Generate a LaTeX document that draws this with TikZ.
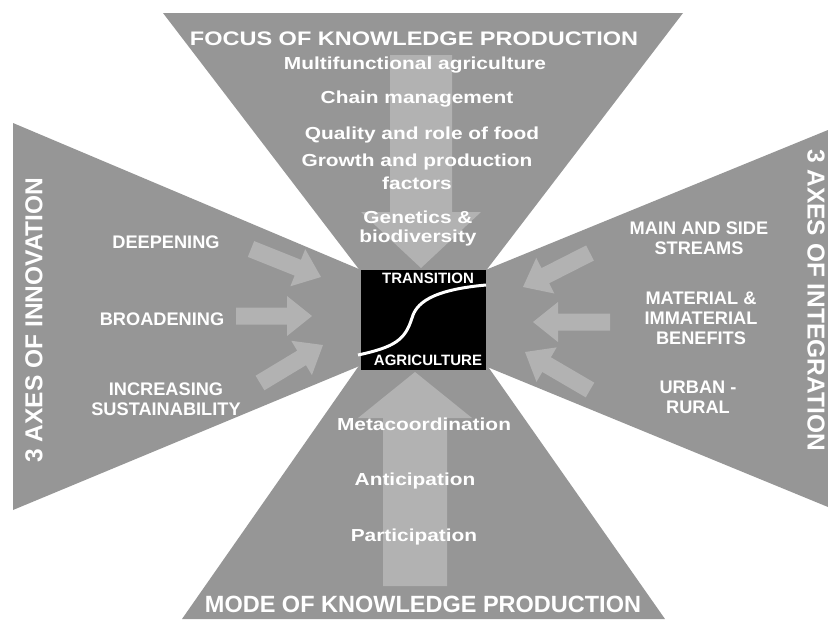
\documentclass[tikz,border=0pt]{standalone}
\usepackage{fontspec}
\usetikzlibrary{calc}
\newfontfamily\widesans{Liberation Sans}[FakeStretch=1.2]
\newfontfamily\plainsans{Liberation Sans}
\definecolor{wedgegray}{RGB}{150,150,150}
\definecolor{arrowgray}{RGB}{178,178,178}
% tail, tip, half shaft, half head, head length
\newcommand{\fatarrow}[5]{%
  \coordinate (hb) at ($(#2)!#5!(#1)$);
  \fill[arrowgray] ($(#1)!#3!90:(#2)$) -- ($(hb)!#3!90:(#2)$) -- ($(hb)!#4!90:(#2)$)
    -- (#2) -- ($(hb)!#4!-90:(#2)$) -- ($(hb)!#3!-90:(#2)$) -- ($(#1)!#3!-90:(#2)$) -- cycle;
}
\tikzset{wedge/.style={fill=wedgegray},
    toplabel/.style={text=white, inner sep=0pt, align=center,
        font=\widesans\bfseries\fontsize{17.4}{23.5}\selectfont},
    sidelabel/.style={text=white, inner sep=0pt, align=center,
        font=\plainsans\bfseries\fontsize{18.2}{20}\selectfont},
    axislabel/.style={text=white, inner sep=0pt,
        font=\plainsans\bfseries\fontsize{24.5}{28}\selectfont},
    boxlabel/.style={text=white, inner sep=0pt,
        font=\plainsans\bfseries\fontsize{15}{18}\selectfont},
    }
\begin{document}
\begin{tikzpicture}[x=1pt, y=-1pt]
\useasboundingbox (0,0) rectangle (828,619);
% the four wedges, their points hidden under the box
\fill[wedge] (163,13) -- (683,13) -- (423,353) -- cycle;%top
\fill[wedge] (13,123) -- (475,318) -- (13,510) -- cycle;%left
\fill[wedge] (828,130) -- (368,318) -- (828,507) -- cycle;%right
\fill[wedge] (423,274) -- (665,619) -- (182,619) -- cycle;%bottom
% arrows
\fatarrow{421,55}{421,268}{31pt}{60pt}{56pt}
\fatarrow{415,586}{415,372}{32pt}{57pt}{46pt}
\fatarrow{251,249}{321,277}{8.5pt}{20pt}{25pt}
\fatarrow{236,316}{312,316}{8.5pt}{20pt}{25pt}
\fatarrow{260,383}{323,345}{8.5pt}{20pt}{25pt}
\fatarrow{590,253}{523,287}{8.5pt}{20pt}{25pt}
\fatarrow{610,322}{533,322}{8.5pt}{20pt}{25pt}
\fatarrow{590,390}{525,352}{8.5pt}{20pt}{25pt}
% focus
\node[toplabel, font=\widesans\bfseries\fontsize{19.6}{23}\selectfont] (focus) at (414,39) {FOCUS OF KNOWLEDGE PRODUCTION};
\node[toplabel] (multi) at (415,65) {Multifunctional agriculture};
\node[toplabel] (chain) at (417,99.5) {Chain management};
\node[toplabel] (quality) at (422,135) {Quality and role of food};
\node[toplabel] (growth) at (417,172) {Growth and production\\factors};
\node[toplabel] (genetics) at (418,228.5) {Genetics \&\\[-4.5pt]biodiversity};
% mode
\node[toplabel] (meta) at (424,424.5) {Metacoordination};
\node[toplabel] (antic) at (415,480.5) {Anticipation};
\node[toplabel] (partic) at (414,536.5) {Participation};
\node[toplabel, font=\plainsans\bfseries\fontsize{23.5}{28}\selectfont] (mode) at (423,604) {MODE OF KNOWLEDGE PRODUCTION};
% innovation
\node[axislabel, rotate=90] (innov) at (34,320) {3 AXES OF INNOVATION};
\node[sidelabel] (deep) at (166,242) {DEEPENING};
\node[sidelabel] (broad) at (162,319.5) {BROADENING};
\node[sidelabel] (incr) at (166,399) {INCREASING\\SUSTAINABILITY};
% integration
\node[axislabel, rotate=-90] (integ) at (816,300) {3 AXES OF INTEGRATION};
\node[sidelabel] (main) at (699,238.5) {MAIN AND SIDE\\STREAMS};
\node[sidelabel] (mater) at (701,318) {MATERIAL \&\\IMMATERIAL\\BENEFITS};
\node[sidelabel] (urban) at (698,397.5) {URBAN -\\RURAL};
% transition box
\node[fill=black, minimum width=125pt, minimum height=100pt, inner sep=0pt] (agri) at (423.5,320) {};
\draw[white, line width=3pt] (358,355) .. controls (395,347) and (405,340) .. (412,318)
  .. controls (416,304) and (430,290) .. (486,285);
\node[boxlabel] (trans) at (428,278) {TRANSITION};
\node[boxlabel] (agrilab) at (428,360.5) {AGRICULTURE};
\end{tikzpicture}
\end{document}
